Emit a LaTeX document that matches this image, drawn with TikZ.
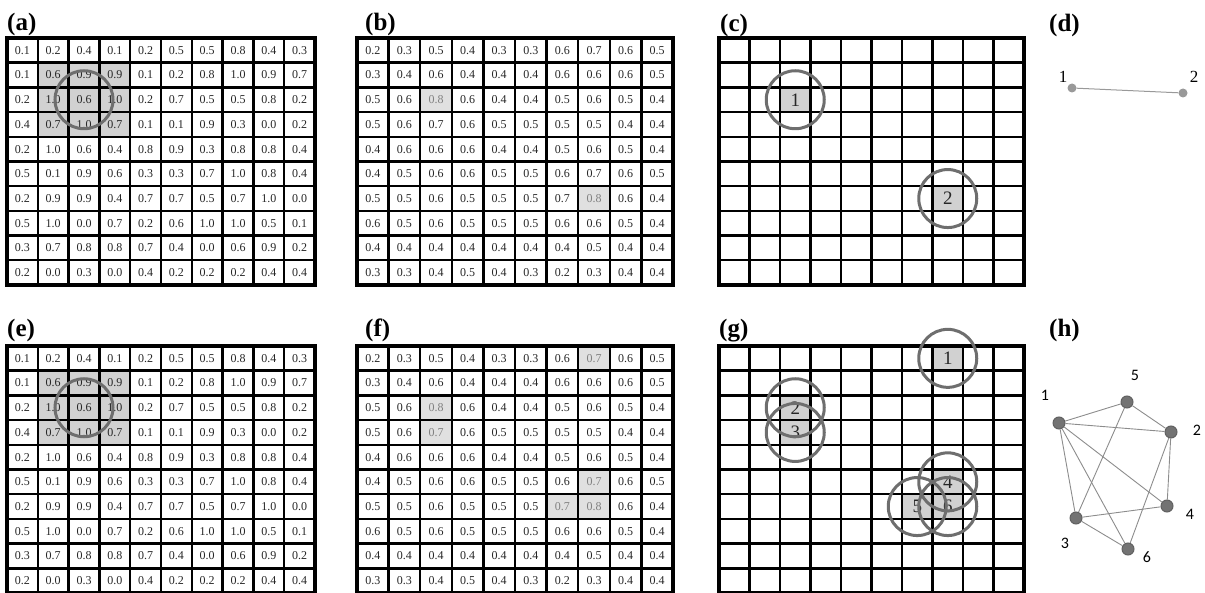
\documentclass[tikz,border=0pt]{standalone}
\usepackage{fontspec}
\setmainfont{Liberation Serif}
\newfontfamily\graphfont{Carlito}
\usepackage{tikz}
\usetikzlibrary{positioning}

% grey text for the marked cells
\newcommand{\gv}{\color{black!50}}

% 10x10 grid, cell width #1
\newcommand{\cellgrid}[1]{%
  \foreach \i in {0,...,10} {
    \draw[gridline] ({\i*#1},0) -- ({\i*#1},247);
    \draw[gridline] (0,{\i*24.7}) -- ({10*#1},{\i*24.7});
  }
  \draw[gridborder] (0,0) rectangle ({10*#1},247);
}
% values: name prefix, cell width, list macro
\newcommand{\cellvalues}[3]{%
  \foreach \rowvals [count=\rw] in #3 {
    \foreach \v [count=\cl] in \rowvals {
      \node[cellval] (#1-\rw-\cl) at ({(\cl-0.5)*#2},{(\rw-0.5)*24.7}) {\v};
    }
  }
}
% shade cell: row, col, cell width, style
\newcommand{\shadecell}[4]{%
  \fill[#4] ({(#2-1)*#3},{(#1-1)*24.7}) rectangle ++(#3,24.7);
}

\newcommand{\valuesA}{%
  {0.1,0.2,0.4,0.1,0.2,0.5,0.5,0.8,0.4,0.3},%
  {0.1,0.6,0.9,0.9,0.1,0.2,0.8,1.0,0.9,0.7},%
  {0.2,1.0,0.6,1.0,0.2,0.7,0.5,0.5,0.8,0.2},%
  {0.4,0.7,1.0,0.7,0.1,0.1,0.9,0.3,0.0,0.2},%
  {0.2,1.0,0.6,0.4,0.8,0.9,0.3,0.8,0.8,0.4},%
  {0.5,0.1,0.9,0.6,0.3,0.3,0.7,1.0,0.8,0.4},%
  {0.2,0.9,0.9,0.4,0.7,0.7,0.5,0.7,1.0,0.0},%
  {0.5,1.0,0.0,0.7,0.2,0.6,1.0,1.0,0.5,0.1},%
  {0.3,0.7,0.8,0.8,0.7,0.4,0.0,0.6,0.9,0.2},%
  {0.2,0.0,0.3,0.0,0.4,0.2,0.2,0.2,0.4,0.4}}

\newcommand{\valuesB}{%
  {0.2,0.3,0.5,0.4,0.3,0.3,0.6,0.7,0.6,0.5},%
  {0.3,0.4,0.6,0.4,0.4,0.4,0.6,0.6,0.6,0.5},%
  {0.5,0.6,{\gv 0.8},0.6,0.4,0.4,0.5,0.6,0.5,0.4},%
  {0.5,0.6,0.7,0.6,0.5,0.5,0.5,0.5,0.4,0.4},%
  {0.4,0.6,0.6,0.6,0.4,0.4,0.5,0.6,0.5,0.4},%
  {0.4,0.5,0.6,0.6,0.5,0.5,0.6,0.7,0.6,0.5},%
  {0.5,0.5,0.6,0.5,0.5,0.5,0.7,{\gv 0.8},0.6,0.4},%
  {0.6,0.5,0.6,0.5,0.5,0.5,0.6,0.6,0.5,0.4},%
  {0.4,0.4,0.4,0.4,0.4,0.4,0.4,0.5,0.4,0.4},%
  {0.3,0.3,0.4,0.5,0.4,0.3,0.2,0.3,0.4,0.4}}

\newcommand{\valuesF}{%
  {0.2,0.3,0.5,0.4,0.3,0.3,0.6,{\gv 0.7},0.6,0.5},%
  {0.3,0.4,0.6,0.4,0.4,0.4,0.6,0.6,0.6,0.5},%
  {0.5,0.6,{\gv 0.8},0.6,0.4,0.4,0.5,0.6,0.5,0.4},%
  {0.5,0.6,{\gv 0.7},0.6,0.5,0.5,0.5,0.5,0.4,0.4},%
  {0.4,0.6,0.6,0.6,0.4,0.4,0.5,0.6,0.5,0.4},%
  {0.4,0.5,0.6,0.6,0.5,0.5,0.6,{\gv 0.7},0.6,0.5},%
  {0.5,0.5,0.6,0.5,0.5,0.5,{\gv 0.7},{\gv 0.8},0.6,0.4},%
  {0.6,0.5,0.6,0.5,0.5,0.5,0.6,0.6,0.5,0.4},%
  {0.4,0.4,0.4,0.4,0.4,0.4,0.4,0.5,0.4,0.4},%
  {0.3,0.3,0.4,0.5,0.4,0.3,0.2,0.3,0.4,0.4}}

\begin{document}
\begin{tikzpicture}[x=1pt, y=-1pt,
  panel/.style={font=\fontsize{25}{30}\selectfont\bfseries, anchor=base west, inner sep=0pt},
  cellval/.style={font=\fontsize{12}{14}\selectfont, text=black!85, inner sep=0pt},
  cellnum/.style={font=\fontsize{19}{21}\selectfont, text=black!85, inner sep=0pt},
  gridline/.style={line width=2.4pt, draw=black},
  gridborder/.style={line width=4pt, draw=black},
  ring/.style={line width=3pt, draw=black!57},
  heavy/.style={fill=black!18},
  light/.style={fill=black!12},
  dvert/.style={circle, fill=black!40, minimum size=9pt, inner sep=0pt},
  hvert/.style={circle, fill=black!55, draw=black!62, line width=1pt, minimum size=12pt, inner sep=0pt},
  dedge/.style={draw=black!40, line width=1pt},
  hedge/.style={draw=black!45, line width=0.9pt},
  dlabel/.style={font=\fontsize{17}{19}\selectfont, inner sep=0pt},
  hlabel/.style={font=\graphfont\fontsize{16}{18}\selectfont, inner sep=0pt}
]
\useasboundingbox (0,0) rectangle (1205,593);

% panel labels
\node[panel] (la) at (7,31) {(a)};
\node[panel] (lb) at (365,31) {(b)};
\node[panel] (lc) at (720,32) {(c)};
\node[panel] (ld) at (1049,32) {(d)};
\node[panel] (le) at (7,337) {(e)};
\node[panel] (lf) at (365,337) {(f)};
\node[panel] (lg) at (719,337) {(g)};
\node[panel] (lh) at (1049,337) {(h)};

% (a)
\begin{scope}[shift={(7,38)}]
  \foreach \r in {2,3,4} \foreach \c in {2,3,4} {\shadecell{\r}{\c}{30.8}{heavy}}
  \cellvalues{a}{30.8}{\valuesA}
  \cellgrid{30.8}
  \draw[ring] (a-3-3.center) circle[radius=29pt];
\end{scope}

% (b)
\begin{scope}[shift={(357,38)}]
  \shadecell{3}{3}{31.6}{light}
  \shadecell{7}{8}{31.6}{light}
  \cellvalues{b}{31.6}{\valuesB}
  \cellgrid{31.6}
\end{scope}

% (c)
\begin{scope}[shift={(719,38)}]
  \shadecell{3}{3}{30.5}{heavy}
  \shadecell{7}{8}{30.5}{heavy}
  \cellgrid{30.5}
  \node[cellnum] (c1) at ({2.5*30.5},{2.5*24.7}) {1};
  \node[cellnum] (c2) at ({7.5*30.5},{6.5*24.7}) {2};
  \draw[ring] (c1.center) circle[radius=29pt];
  \draw[ring] (c2.center) circle[radius=29pt];
\end{scope}

% (d)
\node[dvert] (d1) at (1072,88) {};
\node[dvert] (d2) at (1183,93) {};
\node[dlabel] (dl1) at (1063,77) {1};
\node[dlabel] (dl2) at (1194,77) {2};
\draw[dedge] (d1) -- (d2);

% (e)
\begin{scope}[shift={(7,346)}]
  \foreach \r in {2,3,4} \foreach \c in {2,3,4} {\shadecell{\r}{\c}{30.8}{heavy}}
  \cellvalues{e}{30.8}{\valuesA}
  \cellgrid{30.8}
  \draw[ring] (e-3-3.center) circle[radius=29pt];
\end{scope}

% (f)
\begin{scope}[shift={(357,346)}]
  \foreach \r/\c in {1/8,3/3,4/3,6/8,7/7,7/8} {\shadecell{\r}{\c}{31.6}{light}}
  \cellvalues{f}{31.6}{\valuesF}
  \cellgrid{31.6}
\end{scope}

% (g)
\begin{scope}[shift={(719,346)}]
  \foreach \r/\c in {1/8,3/3,4/3,6/8,7/7,7/8} {\shadecell{\r}{\c}{30.5}{heavy}}
  \cellgrid{30.5}
  \foreach \n/\r/\c in {1/1/8,2/3/3,3/4/3,4/6/8,5/7/7,6/7/8} {
    \node[cellnum] (g\n) at ({(\c-0.5)*30.5},{(\r-0.5)*24.7}) {\n};
  }
  \foreach \n in {1,...,6} {\draw[ring] (g\n.center) circle[radius=29pt];}
\end{scope}

% (h)
\node[hvert] (h1) at (1059,423) {};
\node[hvert] (h5) at (1127,402) {};
\node[hvert] (h2) at (1171,432) {};
\node[hvert] (h4) at (1167,506) {};
\node[hvert] (h3) at (1076,518) {};
\node[hvert] (h6) at (1128,549) {};
\node[hlabel] (hl1) at (1045,395) {1};
\node[hlabel] (hl5) at (1135,375) {5};
\node[hlabel] (hl2) at (1197,430) {2};
\node[hlabel] (hl4) at (1190,514) {4};
\node[hlabel] (hl3) at (1065,543) {3};
\node[hlabel] (hl6) at (1147,557) {6};
\foreach \a/\b in {1/5,1/2,1/4,1/3,1/6,5/2,5/3,2/4,2/6,3/4,3/6} {
  \draw[hedge] (h\a) -- (h\b);
}
\end{tikzpicture}
\end{document}
